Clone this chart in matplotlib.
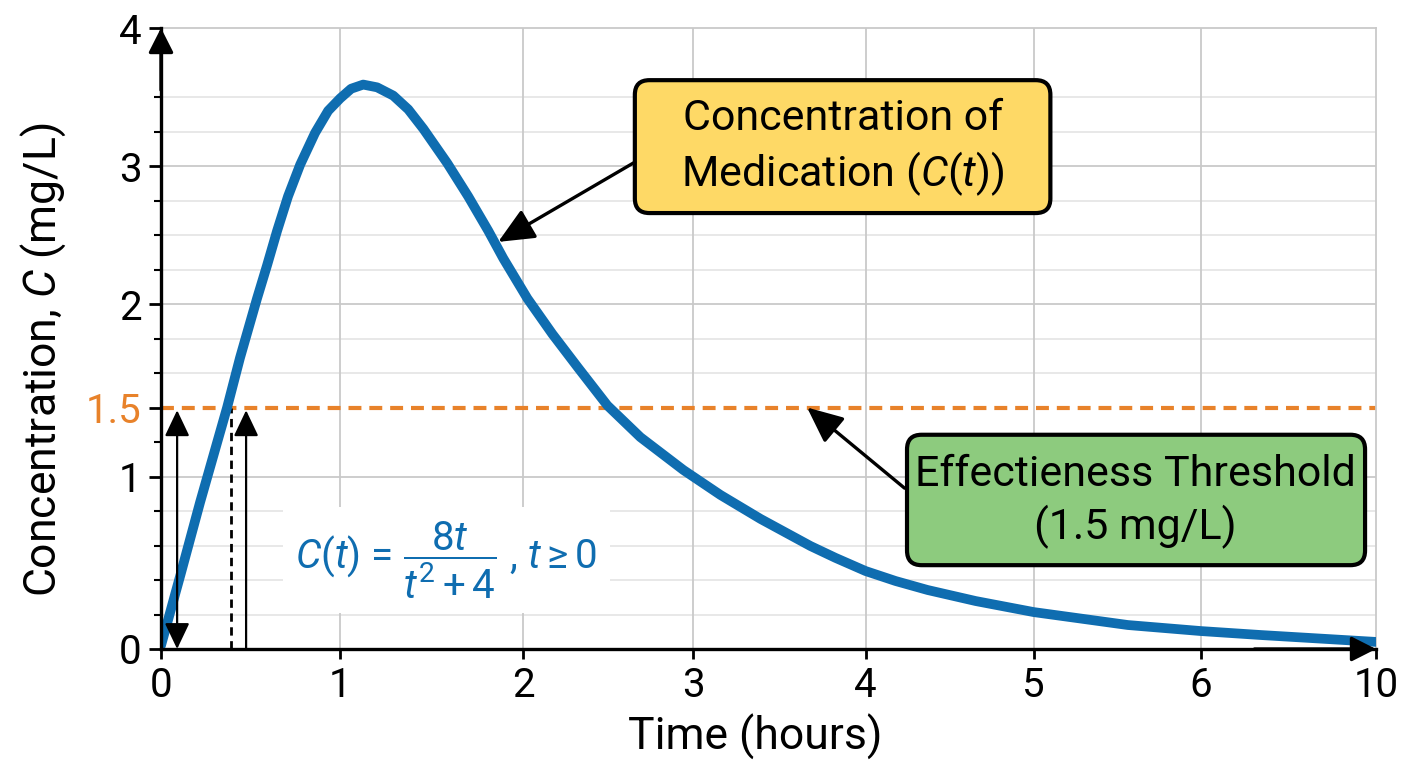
import numpy as np
import matplotlib
matplotlib.use('Agg')
import matplotlib.pyplot as plt
from matplotlib.patches import FancyBboxPatch

plt.rcParams['font.family'] = ['Roboto', 'DejaVu Sans']
plt.rcParams['mathtext.fontset'] = 'custom'
plt.rcParams['mathtext.rm'] = 'Roboto'
plt.rcParams['mathtext.it'] = 'Roboto:italic'
plt.rcParams['mathtext.bf'] = 'Roboto:bold'

# ticks of the (non linear) axes
x_ticks = [0, 1, 2, 3, 4, 5, 6, 10]
y_ticks = [0, 1, 1.5, 2, 3, 4]
y_tick_labels = ['0', '1', '1.5', '2', '3', '4']
y_minor = [0.2, 0.4, 0.6, 0.8, 1.25, 1.667, 1.833, 2.25, 2.5, 2.75, 3.25, 3.5]
y_minor_grid = [0.2, 0.4, 0.6, 0.8, 1.667, 1.833, 2.25, 2.5, 2.75, 3.25, 3.5]

# curve
t = [0.0, 0.106, 0.218, 0.369, 0.441, 0.536, 0.592, 0.648, 0.709, 0.777,
     0.860, 0.933, 1.0, 1.06, 1.126, 1.202, 1.29, 1.372, 1.454, 1.585,
     1.699, 1.809, 1.891, 2.024, 2.171, 2.324, 2.494, 2.688, 2.941, 3.157,
     3.39, 3.68, 3.826, 4.0, 4.179, 4.369, 4.655, 5.0, 5.563, 6.0,
     7.37, 10.0]
conc = [0.02, 0.42, 0.85, 1.50, 1.74, 2.04, 2.28, 2.53, 2.78, 3.01,
        3.24, 3.40, 3.49, 3.56, 3.59, 3.57, 3.51, 3.41, 3.27, 3.02,
        2.78, 2.53, 2.33, 2.04, 1.855, 1.69, 1.51, 1.285, 1.047, 0.893,
        0.754, 0.597, 0.528, 0.452, 0.394, 0.342, 0.278, 0.214, 0.139, 0.104,
        0.081, 0.041]
threshold = 1.5
t_marks = [0.09, 0.39, 0.475]   # arrows / dashed line near the crossing

# scale: where the ticks sit along each axis
x_tick_pos = [0, 179, 362, 532, 704, 872, 1039, 1214]
y_tick_pos = [0, 5, 7, 10, 14, 18]


def pw(v, xs, ys):
    v = np.asarray(v, dtype=float)
    s0 = (ys[1] - ys[0]) / (xs[1] - xs[0])
    s1 = (ys[-1] - ys[-2]) / (xs[-1] - xs[-2])
    return np.where(v < xs[0], ys[0] + (v - xs[0]) * s0,
                    np.where(v > xs[-1], ys[-1] + (v - xs[-1]) * s1,
                             np.interp(v, xs, ys)))


blue = '#0F6DB0'
orange = '#E8822A'
grid_major = '#c9c9c9'
grid_minor = '#e6e6e6'

fig = plt.figure(figsize=(14.08, 7.68), dpi=100)
ax = fig.add_axes([161 / 1408, 1 - 649 / 768, 1215 / 1408, 621 / 768])
ax.set_xscale('function', functions=(lambda v: pw(v, x_ticks, x_tick_pos),
                                     lambda v: pw(v, x_tick_pos, x_ticks)))
ax.set_yscale('function', functions=(lambda v: pw(v, y_ticks, y_tick_pos),
                                     lambda v: pw(v, y_tick_pos, y_ticks)))
ax.set_xlim(0, 10)
ax.set_ylim(0, 4)

# grid
for yv in y_minor_grid:
    ax.axhline(yv, color=grid_minor, lw=1.3, zorder=0.5)
for yv in [1, 2, 3]:
    ax.axhline(yv, color=grid_major, lw=1.3, zorder=0.6)
for xv in x_ticks[1:-1]:
    ax.axvline(xv, color=grid_major, lw=1.3, zorder=0.6)

ax.set_xticks(x_ticks)
ax.set_xticklabels([str(v) for v in x_ticks])
ax.set_yticks(y_ticks)
ax.set_yticklabels(y_tick_labels)
ax.set_yticks(y_minor, minor=True)
ax.get_yticklabels()[2].set_color(orange)
ax.tick_params(axis='both', which='major', labelsize=29, width=2, direction='out')
ax.tick_params(axis='y', which='major', length=9, pad=5)
ax.tick_params(axis='x', which='major', length=7, pad=5)
ax.tick_params(axis='y', which='minor', length=5, width=1.5)
ax.tick_params(axis='x', which='minor', length=0)

for s in ['top', 'right']:
    ax.spines[s].set_color(grid_major)
    ax.spines[s].set_linewidth(1.3)
for s in ['left', 'bottom']:
    ax.spines[s].set_color('black')
    ax.spines[s].set_linewidth(2.4)
    ax.spines[s].set_zorder(5)

# axis arrow heads
ax.annotate('', xy=(0, 1), xytext=(0, 0.9), xycoords='axes fraction',
            arrowprops=dict(arrowstyle='-|>,head_length=0.75,head_width=0.38',
                            color='black', lw=2.4, mutation_scale=20,
                            shrinkA=0, shrinkB=0), annotation_clip=False, zorder=6)
ax.annotate('', xy=(1, 0), xytext=(0.9, 0), xycoords='axes fraction',
            arrowprops=dict(arrowstyle='-|>,head_length=0.75,head_width=0.38',
                            color='black', lw=2.4, mutation_scale=20,
                            shrinkA=0, shrinkB=0), annotation_clip=False, zorder=6)

# threshold and curve
ax.axhline(threshold, color=orange, lw=3, ls=(0, (3.1, 1.9)), zorder=2)
ax.plot(t, conc, color=blue, lw=7, solid_capstyle='round', solid_joinstyle='round', zorder=4)

# marks near the first crossing
arr = dict(color='black', lw=1.6, mutation_scale=20, shrinkA=0, shrinkB=0)
ax.annotate('', xy=(t_marks[0], threshold - 0.02), xytext=(t_marks[0], 0.0),
            arrowprops=dict(arrowstyle='<|-|>,head_length=0.8,head_width=0.38', **arr), zorder=5)
ax.plot([t_marks[1], t_marks[1]], [0, threshold], color='black', lw=2, ls=(0, (3, 2)), zorder=3)
ax.annotate('', xy=(t_marks[2], threshold - 0.02), xytext=(t_marks[2], 0.0),
            arrowprops=dict(arrowstyle='-|>,head_length=0.8,head_width=0.38', **arr), zorder=5)

# formula
ax.text(0.235, 0.143, r'$C(t)$ = $\dfrac{8t}{t^2 + 4}$ , $t \geq 0$', transform=ax.transAxes,
        fontsize=29, color=blue, ha='center', va='center', zorder=3,
        bbox=dict(boxstyle='square,pad=0.3', fc='white', ec='none'))

# callout boxes
asp = 1215 / 621
yellow_box = FancyBboxPatch((0.390, 0.702), 0.342, 0.214, transform=ax.transAxes,
                            boxstyle='round,pad=0,rounding_size=0.012', mutation_aspect=asp,
                            fc='#FED966', ec='black', lw=3, zorder=6, clip_on=False)
ax.add_patch(yellow_box)
ax.text(0.561, 0.807, 'Concentration of\nMedication ($C$($t$))', transform=ax.transAxes,
        fontsize=31, ha='center', va='center', linespacing=1.3, zorder=7)
ax.annotate('', xy=(1.863, 2.45), xytext=(0.390, 0.784), textcoords='axes fraction',
            arrowprops=dict(arrowstyle='-|>,head_length=1.0,head_width=0.45', color='black',
                            lw=2.4, mutation_scale=22, shrinkA=0, shrinkB=0), zorder=6)

green_box = FancyBboxPatch((0.614, 0.135), 0.377, 0.210, transform=ax.transAxes,
                           boxstyle='round,pad=0,rounding_size=0.012', mutation_aspect=asp,
                           fc='#8DCB7E', ec='black', lw=3, zorder=6, clip_on=False)
ax.add_patch(green_box)
ax.text(0.802, 0.238, 'Effectieness Threshold\n(1.5 mg/L)', transform=ax.transAxes,
        fontsize=31, ha='center', va='center', linespacing=1.3, zorder=7)
ax.annotate('', xy=(3.66, 1.5), xytext=(0.612, 0.259), textcoords='axes fraction',
            arrowprops=dict(arrowstyle='-|>,head_length=1.0,head_width=0.45', color='black',
                            lw=2.4, mutation_scale=22, shrinkA=0, shrinkB=0), zorder=6)

ax.set_xlabel('Time (hours)', fontsize=32)
ax.set_ylabel('Concentration, $C$ (mg/L)', fontsize=32)
ax.xaxis.set_label_coords(0.489, -0.105)
ax.yaxis.set_label_coords(-0.0765, 0.465)

fig.savefig('out.png', dpi=100)
